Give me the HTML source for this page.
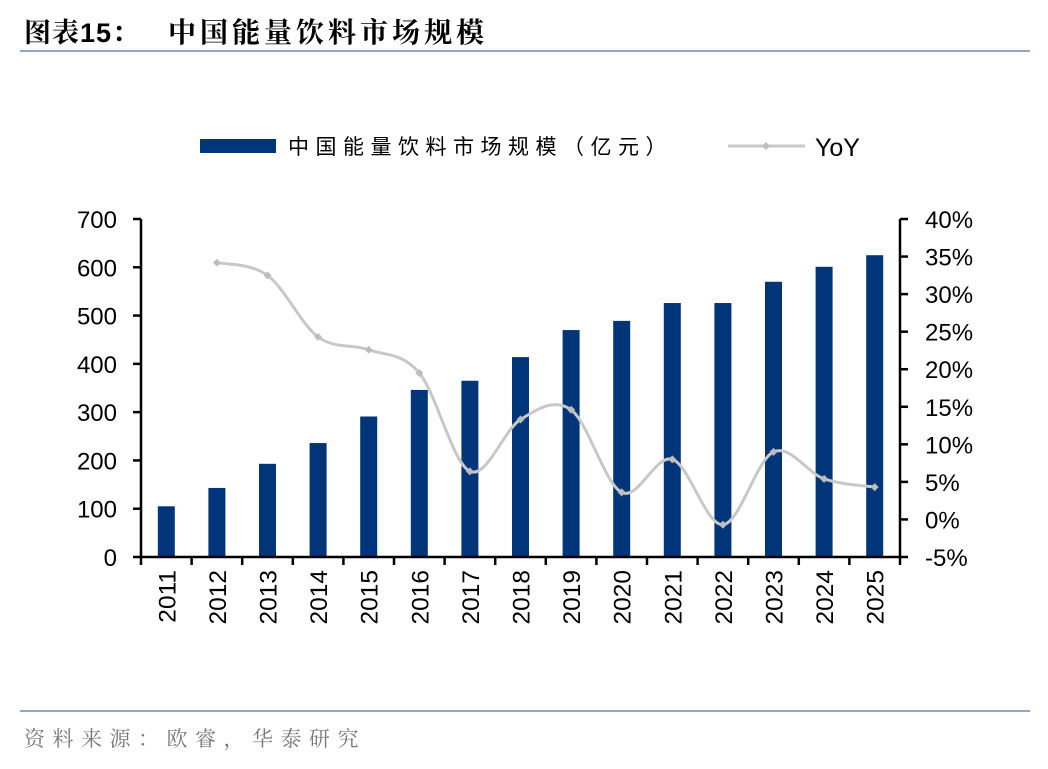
<!DOCTYPE html>
<html><head><meta charset="utf-8"><style>
body{margin:0;background:#fff;width:1048px;height:764px;overflow:hidden;font-family:"Liberation Sans","Noto Sans CJK SC",sans-serif}
</style></head><body>
<svg id="s" width="1048" height="764" xmlns="http://www.w3.org/2000/svg" font-family="Liberation Sans, Noto Sans CJK SC, sans-serif">
<text x="24" y="42" font-size="27" font-weight="bold" fill="#000" font-family="Liberation Sans, Noto Serif CJK SC, Noto Sans CJK SC, sans-serif" letter-spacing="1">图表15：</text>
<text x="168" y="42" font-size="28" font-weight="bold" fill="#000" font-family="Noto Serif CJK SC, Noto Sans CJK SC, sans-serif" letter-spacing="4">中国能量饮料市场规模</text>
<line x1="20" y1="51" x2="1030" y2="51" stroke="#8fa8c6" stroke-width="2"/>
<line x1="20" y1="711" x2="1030" y2="711" stroke="#8fa8c6" stroke-width="2"/>
<text x="24" y="746" font-size="21" fill="#777" font-family="Noto Serif CJK SC, Noto Sans CJK SC, sans-serif" letter-spacing="7.5">资料来源：欧睿，华泰研究</text>
<rect x="200" y="139" width="76" height="14" fill="#003679"/>
<text x="288" y="154" font-size="21" fill="#000" letter-spacing="6.5">中国能量饮料市场规模（亿元）</text>
<line x1="728" y1="146" x2="805" y2="146" stroke="#c8c8c8" stroke-width="3"/>
<path d="M766 142 L770 146 L766 150 L762 146Z" fill="#c0c0c0"/>
<text x="815" y="156" font-size="25" fill="#000">YoY</text>
<g id="g"></g>
</svg>
<script>
var g=document.getElementById('g'),h='';
var L=141,R=900,T=219,B=557,n=15,w=(R-L)/n;
var bars=[105,143,193,236,291,346,365,414,470,489,526,526,570,601,625];
var yoy=[null,34.2,32.5,24.3,22.6,19.5,6.4,13.3,14.6,3.6,8.0,-0.7,9.0,5.4,4.3];
function yl(v){return B-v/700*(B-T);}
function yr(v){return B-(v+5)/45*(B-T);}
for(var i=0;i<n;i++){var cx=L+w*(i+0.5);var y=yl(bars[i]);
h+='<rect x="'+(cx-8.5)+'" y="'+y+'" width="17" height="'+(B-y)+'" fill="#003679"/>';
h+='<text transform="translate('+(cx+9)+',570) rotate(-90)" text-anchor="end" font-size="24.5">'+(2011+i)+'</text>';}
for(var v=0;v<=700;v+=100){var y=yl(v);h+='<line x1="133" y1="'+y+'" x2="'+L+'" y2="'+y+'" stroke="#000" stroke-width="2.5"/><text x="117" y="'+(y+9)+'" text-anchor="end" font-size="24">'+v+'</text>';}
for(var v=-5;v<=40;v+=5){var y=yr(v);h+='<line x1="'+R+'" y1="'+y+'" x2="908" y2="'+y+'" stroke="#000" stroke-width="2.5"/><text x="925" y="'+(y+9)+'" font-size="24">'+v+'%</text>';}
for(var i=0;i<=n;i++){var x=L+w*i;h+='<line x1="'+x+'" y1="'+B+'" x2="'+x+'" y2="565" stroke="#000" stroke-width="2.5"/>';}
h+='<line x1="'+L+'" y1="'+T+'" x2="'+L+'" y2="'+B+'" stroke="#000" stroke-width="2.5"/>';
h+='<line x1="'+R+'" y1="'+T+'" x2="'+R+'" y2="'+B+'" stroke="#000" stroke-width="2.5"/>';
h+='<line x1="'+L+'" y1="'+B+'" x2="'+R+'" y2="'+B+'" stroke="#000" stroke-width="2.5"/>';
var p=[];for(var i=1;i<n;i++)p.push([L+w*(i+0.5),yr(yoy[i])]);
var d='M'+p[0][0]+' '+p[0][1];
for(var i=0;i<p.length-1;i++){var p0=p[i-1]||p[i],p1=p[i],p2=p[i+1],p3=p[i+2]||p2;
d+=' C'+(p1[0]+(p2[0]-p0[0])/6)+' '+(p1[1]+(p2[1]-p0[1])/6)+' '+(p2[0]-(p3[0]-p1[0])/6)+' '+(p2[1]-(p3[1]-p1[1])/6)+' '+p2[0]+' '+p2[1];}
h+='<path d="'+d+'" fill="none" stroke="#c8c8c8" stroke-width="3"/>';
p.forEach(function(q){h+='<path d="M'+q[0]+' '+(q[1]-4)+' L'+(q[0]+4)+' '+q[1]+' L'+q[0]+' '+(q[1]+4)+' L'+(q[0]-4)+' '+q[1]+'Z" fill="#bdbdbd"/>';});
g.innerHTML=h;
</script>
</body></html>
